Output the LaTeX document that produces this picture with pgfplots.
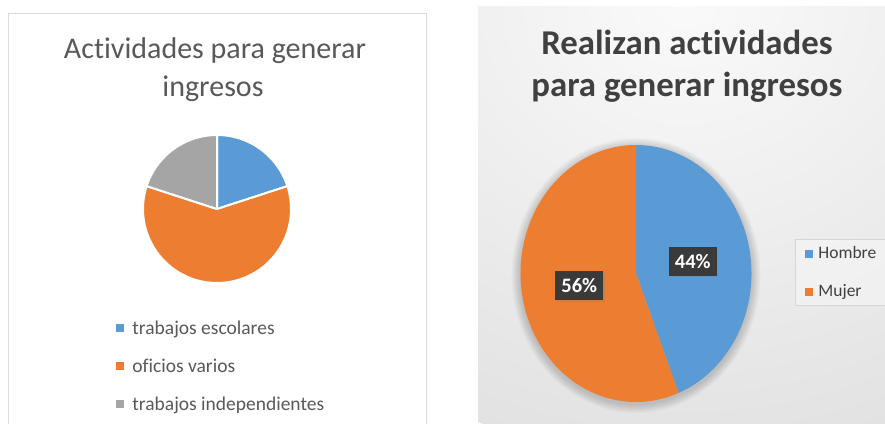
\documentclass[border=0pt]{standalone}
\usepackage{pgfplots}
\pgfplotsset{compat=1.18}
\usepackage{pgfplotstable}
\usepackage{fontspec}
\setmainfont{Carlito}[Ligatures=NoCommon]
\usetikzlibrary{shadows}

\definecolor{cBlue}{HTML}{5B9BD5}
\definecolor{cOrange}{HTML}{ED7D31}
\definecolor{cGray}{HTML}{A5A5A5}
\definecolor{tGray}{HTML}{595959}
\definecolor{tDark}{HTML}{404040}
\definecolor{bgA}{HTML}{FAFAFA}
\definecolor{bgB}{HTML}{E2E2E2}
\definecolor{bgC}{HTML}{C2C2C2}
\definecolor{lblBox}{HTML}{3A3A3A}
\pgfdeclareradialshading{panelbg}{\pgfpoint{0bp}{0bp}}{color(0bp)=(bgA); color(25bp)=(bgB); color(50bp)=(bgC)}

\pgfplotstableread[col sep=comma]{
actividad,valor
trabajos escolares,20
oficios varios,60
trabajos independientes,20
}\actividades
\pgfplotstableread[col sep=comma]{
sexo,valor
Hombre,44
Mujer,56
}\sexo
\pgfplotstablegetelem{0}{valor}\of\actividades \edef\vA{\pgfplotsretval}
\pgfplotstablegetelem{1}{valor}\of\actividades \edef\vB{\pgfplotsretval}
\pgfplotstablegetelem{2}{valor}\of\actividades \edef\vC{\pgfplotsretval}
\pgfplotstablegetelem{0}{valor}\of\sexo \edef\vH{\pgfplotsretval}
\pgfplotstablegetelem{1}{valor}\of\sexo \edef\vM{\pgfplotsretval}
\pgfmathsetmacro\aA{3.6*\vA}
\pgfmathsetmacro\aB{\aA+3.6*\vB}
\pgfmathsetmacro\aC{\aB+3.6*\vC}
\pgfmathsetmacro\bA{3.6*\vH}
\pgfmathsetmacro\bB{\bA+3.6*\vM}
% right pie geometry
\def\cx{636}\def\cy{149.5}\def\rx{115.5}\def\ry{128.5}
\pgfmathsetmacro\mA{\bA/2}
\pgfmathsetmacro\mB{(\bA+\bB)/2}
\pgfmathsetmacro\lxA{\cx+0.5*\rx*sin(\mA)}
\pgfmathsetmacro\lyA{\cy+0.5*\ry*cos(\mA)}
\pgfmathsetmacro\lxB{\cx+0.5*\rx*sin(\mB)}
\pgfmathsetmacro\lyB{\cy+0.5*\ry*cos(\mB)}

\begin{document}
\begin{tikzpicture}[x=1pt,y=1pt]
\fill[white] (0,0) rectangle (885,423);
% left panel
\begin{scope}
\clip (0,0) rectangle (885,423);
\draw[draw=black!14, fill=white, line width=0.8pt] (8,-5) rectangle (426,410);
\end{scope}
% right panel
\begin{scope}
\clip (478,0) rectangle (885,416);
\shade[shading=panelbg] (685,423) ellipse [x radius=520, y radius=460];
\foreach \k in {9,...,1} {
  \fill[black, opacity=0.018] (\cx,\cy-2) ellipse [x radius=\rx+\k, y radius=\ry+\k];
}
\end{scope}
% titles
\node[anchor=base, text=tGray, font=\fontsize{30}{30}\selectfont, inner sep=0pt] at (215,364) {Actividades para generar};
\node[anchor=base, text=tGray, font=\fontsize{30}{30}\selectfont, inner sep=0pt] at (213,326) {ingresos};
\node[anchor=base, text=tDark, font=\bfseries\fontsize{34.8}{34.8}\selectfont, inner sep=0pt] at (687,368) {Realizan actividades};
\node[anchor=base, text=tDark, font=\bfseries\fontsize{34.8}{34.8}\selectfont, inner sep=0pt] at (687,326) {para generar ingresos};

% ---------- left chart ----------
\begin{axis}[at={(0,0)}, anchor=south west, x=1pt, y=1pt,
  xmin=0, xmax=885, ymin=0, ymax=423, hide axis, clip=false,
  legend cell align=left,
  legend style={at={(0.13107,0.24350)}, anchor=north west, draw=none, fill=none,
    inner sep=0pt, outer sep=0pt, row sep=22pt,
    font=\fontsize{19.5}{19.5}\selectfont, text=tGray,
    nodes={inner sep=0pt, text height=14pt, text depth=2pt},
    /tikz/every odd column/.style={column sep=9pt}}]
\addplot[fill=cBlue, draw=white, line width=2pt, line join=round, domain=0:\aA, samples=60, variable=\t, forget plot]
  ({217+74*sin(\t)}, {214+74*cos(\t)}) -- (axis cs:217,214) -- cycle;
\addplot[fill=cOrange, draw=white, line width=2pt, line join=round, domain=\aA:\aB, samples=120, variable=\t, forget plot]
  ({217+74*sin(\t)}, {214+74*cos(\t)}) -- (axis cs:217,214) -- cycle;
\addplot[fill=cGray, draw=white, line width=2pt, line join=round, domain=\aB:\aC, samples=60, variable=\t, forget plot]
  ({217+74*sin(\t)}, {214+74*cos(\t)}) -- (axis cs:217,214) -- cycle;
\addlegendimage{legend image code/.code={\fill[cBlue] (0pt,-3.5pt) rectangle (7pt,3.5pt);}}
\addlegendentry{trabajos escolares}
\addlegendimage{legend image code/.code={\fill[cOrange] (0pt,-3.5pt) rectangle (7pt,3.5pt);}}
\addlegendentry{oficios varios}
\addlegendimage{legend image code/.code={\fill[cGray] (0pt,-3.5pt) rectangle (7pt,3.5pt);}}
\addlegendentry{trabajos independientes}
\end{axis}

% ---------- right chart ----------
\begin{axis}[at={(0,0)}, anchor=south west, x=1pt, y=1pt,
  xmin=0, xmax=885, ymin=0, ymax=423, hide axis, clip=false,
  legend cell align=left,
  legend style={at={(0.89831,0.43381)}, anchor=north west, draw=black!16, fill=white, fill opacity=0.35, text opacity=1,
    inner xsep=10pt, inner ysep=7pt, outer sep=0pt, row sep=24pt,
    font=\fontsize{17.5}{17.5}\selectfont, text=tDark,
    nodes={inner sep=0pt, text height=12.5pt, text depth=1.5pt},
    /tikz/every odd column/.style={column sep=6pt}}]
\addplot[fill=cBlue, draw=none, domain=0:\bA, samples=120, variable=\t, forget plot]
  ({\cx+\rx*sin(\t)}, {\cy+\ry*cos(\t)}) -- (axis cs:\cx,\cy) -- cycle;
\addplot[fill=cOrange, draw=none, domain=\bA:\bB, samples=120, variable=\t, forget plot]
  ({\cx+\rx*sin(\t)}, {\cy+\ry*cos(\t)}) -- (axis cs:\cx,\cy) -- cycle;
\addlegendimage{legend image code/.code={\fill[cBlue, fill opacity=1] (0pt,-3.5pt) rectangle (7pt,3.5pt);}}
\addlegendentry{Hombre}
\addlegendimage{legend image code/.code={\fill[cOrange, fill opacity=1] (0pt,-3.5pt) rectangle (7pt,3.5pt);}}
\addlegendentry{Mujer}
\node[fill=lblBox, text=white, font=\bfseries\fontsize{20.5}{20.5}\selectfont, minimum width=48pt, minimum height=29pt, inner sep=0pt,
  drop shadow={shadow xshift=1.5pt, shadow yshift=-1.5pt, opacity=0.35}] at (axis cs:\lxA,\lyA) {\vH\%};
\node[fill=lblBox, text=white, font=\bfseries\fontsize{20.5}{20.5}\selectfont, minimum width=48pt, minimum height=29pt, inner sep=0pt,
  drop shadow={shadow xshift=1.5pt, shadow yshift=-1.5pt, opacity=0.35}] at (axis cs:\lxB,\lyB) {\vM\%};
\end{axis}
\pgfresetboundingbox
\path[use as bounding box] (0,0) rectangle (885,423);
\end{tikzpicture}
\end{document}
